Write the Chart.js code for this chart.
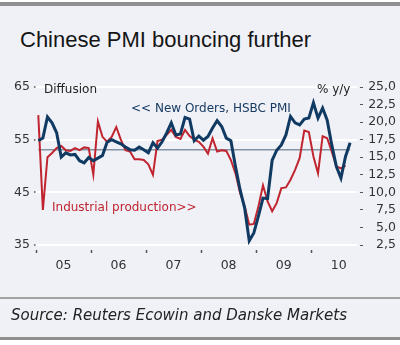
<!DOCTYPE html>
<html><head><meta charset="utf-8">
<script src="https://cdn.jsdelivr.net/npm/chart.js@4"></script>
<style>
html,body{margin:0;padding:0;background:#fff;}
#wrap{position:relative;width:400px;height:345px;overflow:hidden;background:#fff;}
#panel{position:absolute;left:0;top:2px;width:400px;height:337px;background:#f0f1f7;}
.bar{position:absolute;left:0;width:400px;background:#8f8f8f;}
.t{position:absolute;white-space:nowrap;font-family:"DejaVu Sans";font-size:12px;line-height:12px;color:#222;}
#title{position:absolute;left:20px;top:29px;font-family:"Liberation Sans";font-size:22px;line-height:22px;color:#151515;white-space:nowrap;}
#source{position:absolute;left:11px;top:308px;font-family:"DejaVu Sans";font-style:italic;font-size:15px;line-height:15px;color:#222;white-space:nowrap;}
#c{position:absolute;left:0;top:0;}
</style></head><body>
<div id="wrap">
<div id="panel"></div>
<div class="bar" style="top:2px;height:4px"></div>
<div class="bar" style="top:297px;height:2px;background:#a3a3a3"></div>
<div class="bar" style="top:337px;height:3px"></div>
<div id="title">Chinese PMI bouncing further</div>
<canvas id="c" width="400" height="345"></canvas>
<div class="t" style="left:44px;top:83px">Diffusion</div>
<div class="t" style="left:317px;top:83px">% y/y</div>
<div class="t" style="left:131px;top:102px;color:#173a61">&lt;&lt; New Orders, HSBC PMI</div>
<div class="t" style="left:52px;top:201px;color:#c0252f">Industrial production&gt;&gt;</div>
<div id="source">Source: Reuters Ecowin and Danske Markets</div>
</div>
<script>
// Monthly data, Jan 2005 .. Sep 2010 (index = month number)
const months = ['2005-01','2005-02','2005-03','2005-04','2005-05','2005-06','2005-07','2005-08','2005-09','2005-10','2005-11','2005-12',
'2006-01','2006-02','2006-03','2006-04','2006-05','2006-06','2006-07','2006-08','2006-09','2006-10','2006-11','2006-12',
'2007-01','2007-02','2007-03','2007-04','2007-05','2007-06','2007-07','2007-08','2007-09','2007-10','2007-11','2007-12',
'2008-01','2008-02','2008-03','2008-04','2008-05','2008-06','2008-07','2008-08','2008-09','2008-10','2008-11','2008-12',
'2009-01','2009-02','2009-03','2009-04','2009-05','2009-06','2009-07','2009-08','2009-09','2009-10','2009-11','2009-12',
'2010-01','2010-02','2010-03','2010-04','2010-05','2010-06','2010-07','2010-08','2010-09'];

// << New Orders, HSBC PMI (left axis, diffusion)
const newOrders = [54.8,55.3,59.3,58.2,56.3,51.7,52.5,52.1,52.2,51.0,50.6,51.6,
51.0,51.5,52.0,54.5,55.0,54.6,54.2,53.6,53.1,53.0,53.6,53.1,
52.5,54.4,53.4,54.6,56.3,58.2,55.9,56.1,59.2,58.9,54.8,55.7,
54.9,55.6,57.2,58.6,57.5,55.3,54.8,49.9,45.5,42.0,35.8,37.3,
40.5,43.9,43.8,51.1,53.0,54.0,55.9,59.4,58.2,57.8,58.9,59.1,
62.0,59.1,61.0,58.7,54.0,49.9,47.7,51.8,54.4];

// Industrial production >> (right axis, % y/y)
const industrialProduction = [21.0,7.5,15.0,15.6,16.3,16.6,16.0,15.9,16.3,16.0,16.4,16.3,
12.5,20.1,17.9,17.2,17.9,19.3,17.5,16.0,15.8,14.7,14.7,14.6,
14.0,12.5,17.3,17.5,18.2,18.9,17.9,17.6,18.9,18.0,17.5,17.2,
16.5,15.5,17.7,15.8,16.0,15.9,14.6,12.7,9.9,8.0,5.4,5.5,
8.0,11.0,8.7,7.3,8.5,10.6,10.7,11.8,13.2,14.9,18.8,18.6,
15.1,12.7,18.0,17.7,15.8,13.7,13.4,13.8,null];

const referenceLevel = 53.1; // horizontal reference line (left axis)

const leftTicks = [35,45,55,65];
const rightTicks = [2.5,5,7.5,10,12.5,15,17.5,20,22.5,25];
const rightTickLabels = ['2,5','5,0','7,5','10,0','12,5','15,0','17,5','20,0','22,5','25,0'];
const yearLabels = ['05','06','07','08','09','10'];
// x ticks: year boundaries and mid-years (in month-index units)
const xTicks = [-0.5,5.5,11.5,17.5,23.5,29.5,35.5,41.5,47.5,53.5,59.5,65.5];

const toXY = arr => arr.map((v,i)=>({x:i,y:v}));
const isBoundary = v => Math.abs(((v+0.5)%12+12)%12) < 1e-6;

const tickFont = {family:'DejaVu Sans', size:12.5};

new Chart(document.getElementById('c'), {
  type:'line',
  data:{
    datasets:[
      {label:'New Orders, HSBC PMI', data:toXY(newOrders), yAxisID:'yL', borderColor:'#113a63', borderWidth:3, pointRadius:0, tension:0, order:0},
      {label:'Industrial production', data:toXY(industrialProduction), yAxisID:'yR', borderColor:'#c0252f', borderWidth:2, pointRadius:0, tension:0, order:1},
      {label:'ref', data:[{x:0,y:referenceLevel},{x:months.length-1,y:referenceLevel}], yAxisID:'yL', borderColor:'#8493a3', borderWidth:1.5, pointRadius:0, order:2}
    ]
  },
  options:{
    responsive:false, animation:false, devicePixelRatio:1,
    layout:{padding:{top:87,right:4,bottom:70,left:0}},
    plugins:{legend:{display:false}, tooltip:{enabled:false}},
    scales:{
      x:{type:'linear', min:-0.5, max:69.5,
        afterBuildTicks:s=>{s.ticks = xTicks.map(v=>({value:v}));},
        afterFit:s=>{s.height=30;},
        border:{display:false},
        grid:{drawOnChartArea:false, tickLength:8, tickWidth:1.5, tickBorderDash:[0,5,3],
          tickColor:ctx=> (ctx.tick && isBoundary(ctx.tick.value)) ? '#555' : 'rgba(0,0,0,0)'},
        ticks:{autoSkip:false, maxRotation:0, padding:5, color:'#333', font:tickFont,
          callback:(v)=> isBoundary(v) ? '' : yearLabels[Math.round((v-5.5)/12)]}
      },
      yL:{type:'linear', position:'left', min:35, max:65,
        afterBuildTicks:s=>{s.ticks = leftTicks.map(v=>({value:v}));},
        afterFit:s=>{s.width=36;},
        border:{display:false},
        grid:{color:'#ffffff', lineWidth:2, tickColor:'#555', tickWidth:1.5, tickLength:4, tickBorderDash:[0,2,1.5,10]},
        ticks:{autoSkip:false, padding:2, color:'#333', font:tickFont}
      },
      yR:{type:'linear', position:'right', min:2.5, max:25,
        afterBuildTicks:s=>{s.ticks = rightTicks.map(v=>({value:v}));},
        afterFit:s=>{s.width=39;},
        border:{display:false},
        grid:{drawOnChartArea:false, tickColor:'#555', tickWidth:1, tickLength:6, tickBorderDash:[0,3,3]},
        ticks:{autoSkip:false, crossAlign:'far', padding:2, color:'#333', font:tickFont,
          callback:(v,i)=> rightTickLabels[i]}
      }
    }
  }
});
</script>
</body></html>
